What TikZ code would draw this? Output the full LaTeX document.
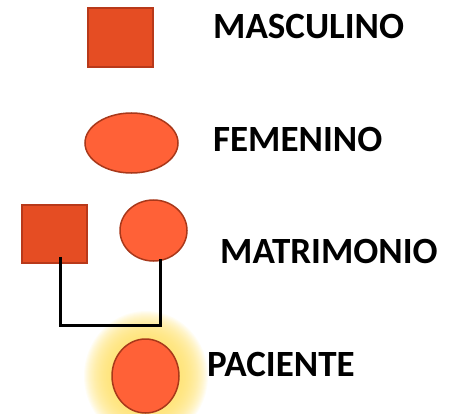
\documentclass[tikz,border=0pt]{standalone}
\usepackage{fontspec}
\setmainfont{Carlito}
\usetikzlibrary{shapes.geometric}
\definecolor{sqfill}{HTML}{E54D23}
\definecolor{sqline}{HTML}{B8391A}
\definecolor{elfill}{HTML}{FF6137}
\definecolor{elline}{HTML}{A8381A}
\definecolor{glowc}{HTML}{FFE066}
\tikzset{
  male/.style={rectangle, draw=sqline, fill=sqfill, line width=1.5pt, inner sep=0pt},
  female/.style={ellipse, draw=elline, fill=elfill, line width=1.5pt, inner sep=0pt},
  lbl/.style={anchor=west, inner sep=0pt, font=\fontsize{37}{44}\selectfont\bfseries},
  conn/.style={line width=3pt, black}
}
\begin{document}
\begin{tikzpicture}[x=1pt,y=-1pt]
\useasboundingbox (0,0) rectangle (457,414);
% glow behind patient
\foreach \i in {0,...,26}{
  \fill[glowc, opacity=0.065] (146,376) ellipse ({34+28-\i} and {37+28-\i});
}
\node[male, minimum width=65pt, minimum height=59pt] (m1) at (120.5,37.5) {};
\node[lbl] (t1) at (213,27) {MASCULINO};
\node[female, minimum width=93pt, minimum height=60pt] (f1) at (131.5,143) {};
\node[lbl] (t2) at (213,139) {FEMENINO};
\node[male, minimum width=65pt, minimum height=58pt] (m2) at (54.5,234) {};
\node[female, minimum width=67pt, minimum height=61pt] (f2) at (153.5,230.5) {};
\node[lbl] (t3) at (220,251.5) {MATRIMONIO};
\node[female, minimum width=67pt, minimum height=74pt] (p) at (145.5,376) {};
\node[lbl] (t4) at (207,364.5) {PACIENTE};
\draw[conn] ([shift={(5.5,-7)}]m2.south) -- ++(0,69) -| ([shift={(6.5,-3)}]f2.south);
\end{tikzpicture}
\end{document}
